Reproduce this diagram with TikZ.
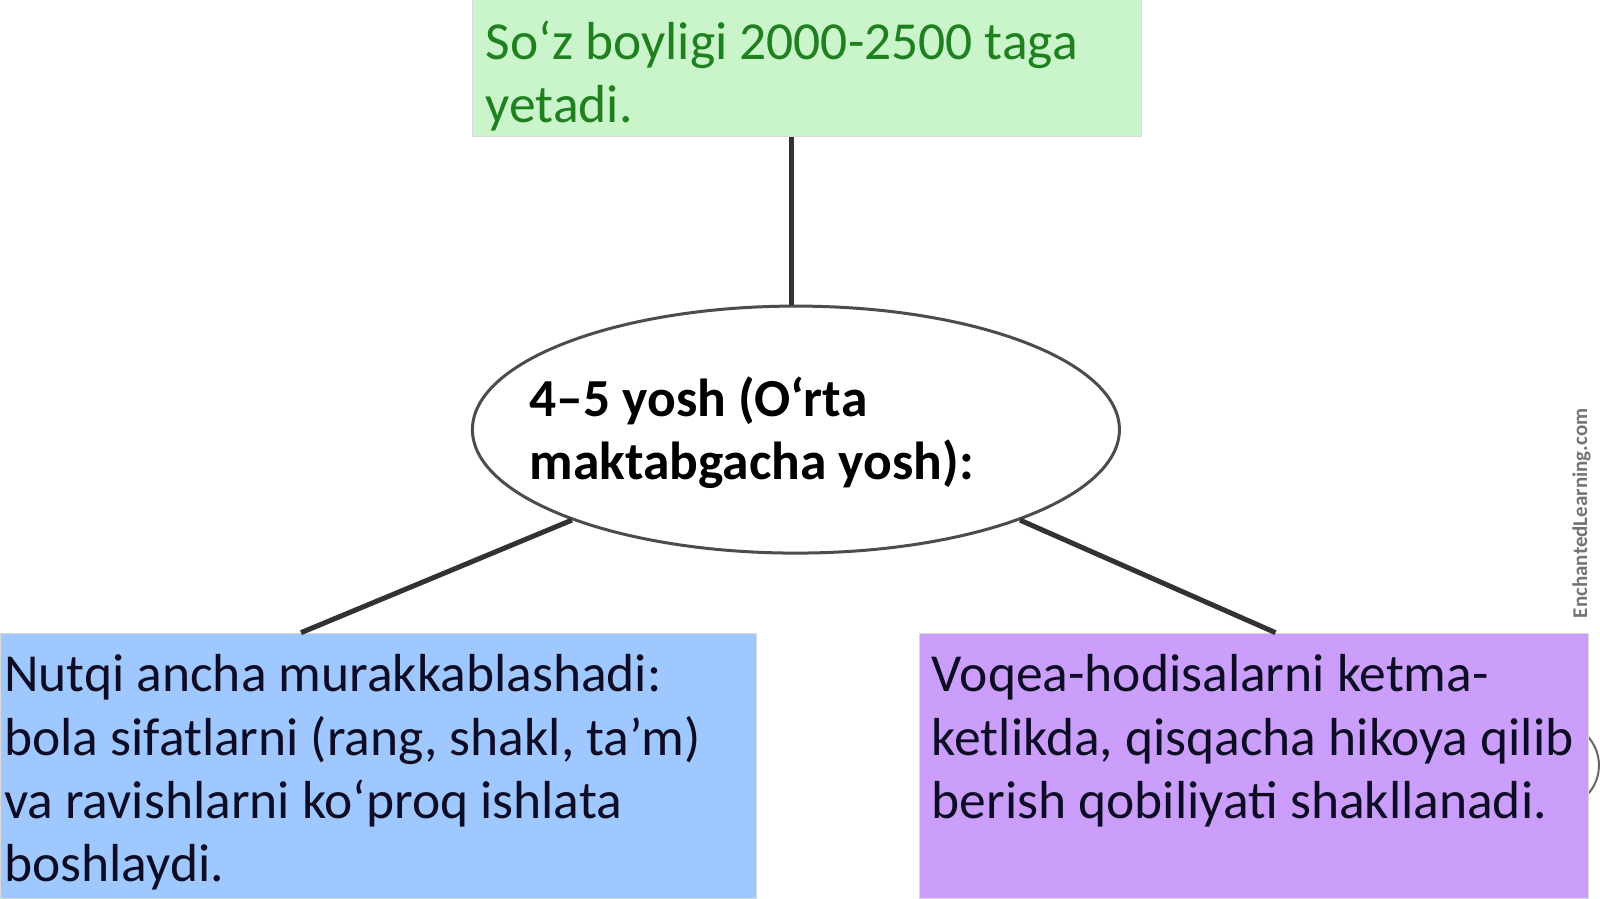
\documentclass[tikz,border=0pt]{standalone}
\usepackage{fontspec}
\setmainfont{Carlito}
\usetikzlibrary{shapes.geometric}
\definecolor{gfill}{RGB}{202,245,202}
\definecolor{gtext}{RGB}{30,128,30}
\definecolor{bfill}{RGB}{158,200,255}
\definecolor{pfill}{RGB}{202,158,250}
\definecolor{dtext}{RGB}{14,12,36}
\definecolor{lcol}{RGB}{50,50,50}
\newcommand{\boxtext}[2]{\parbox[t]{#1}{\raggedright\fontsize{53.5}{63.3}\selectfont #2}}
\tikzset{
  box/.style={draw=black!15, line width=1pt, inner sep=0pt, anchor=north west},
  txt/.style={inner sep=0pt, anchor=base west},
  conn/.style={draw=lcol, line width=5pt},
}
\begin{document}
\begin{tikzpicture}[x=1.0204pt,y=-1.0204pt]
\useasboundingbox (0,0) rectangle (1568,881);
\fill[white] (0,0) rectangle (1568,881);
% watermark
\node[inner sep=0pt, rotate=90, text=black!55, font=\bfseries\fontsize{21}{21}\selectfont] (wm) at (1550,503) {EnchantedLearning.com};
\draw[black!60, line width=2pt] (1525,750) ++(-50:42) arc[start angle=-50, end angle=50, radius=42];
% boxes
\node[box, fill=gfill, minimum width=669pt, minimum height=138pt] (top) at (463,-2) {};
\node[box, fill=bfill, minimum width=756pt, minimum height=265pt] (left) at (0,620) {};
\node[box, fill=pfill, minimum width=669pt, minimum height=265pt] (right) at (901,620) {};
\node[ellipse, draw=black!70, line width=3pt, fill=white, minimum width=647pt, minimum height=247pt] (mid) at (780,421) {};
% connectors
\draw[conn] (top.south -| 776,0) -- (mid.north -| 776,0);
\draw[conn] (mid.-158.4) -- (left.north -| 295,0);
\draw[conn] (mid.-22.5) -- (right.north -| 1250,0);
% texts
\node[txt, text=gtext] (ttop) at (476,58) {\boxtext{640pt}{So‘z boyligi 2000-2500 taga\\yetadi.}};
\node[txt, text=black] (tmid) at (519,408) {\boxtext{640pt}{\bfseries 4–5 yosh (O‘rta\\maktabgacha yosh):}};
\node[txt, text=dtext] (tleft) at (4,678) {\boxtext{760pt}{Nutqi ancha murakkablashadi:\\bola sifatlarni (rang, shakl, ta’m)\\va ravishlarni ko‘proq ishlata\\boshlaydi.}};
\node[txt, text=dtext] (tright) at (913,678) {\boxtext{660pt}{Voqea-hodisalarni ketma-\\ketlikda, qisqacha hikoya qilib\\berish qobiliyati shakllanadi.}};
\end{tikzpicture}
\end{document}
